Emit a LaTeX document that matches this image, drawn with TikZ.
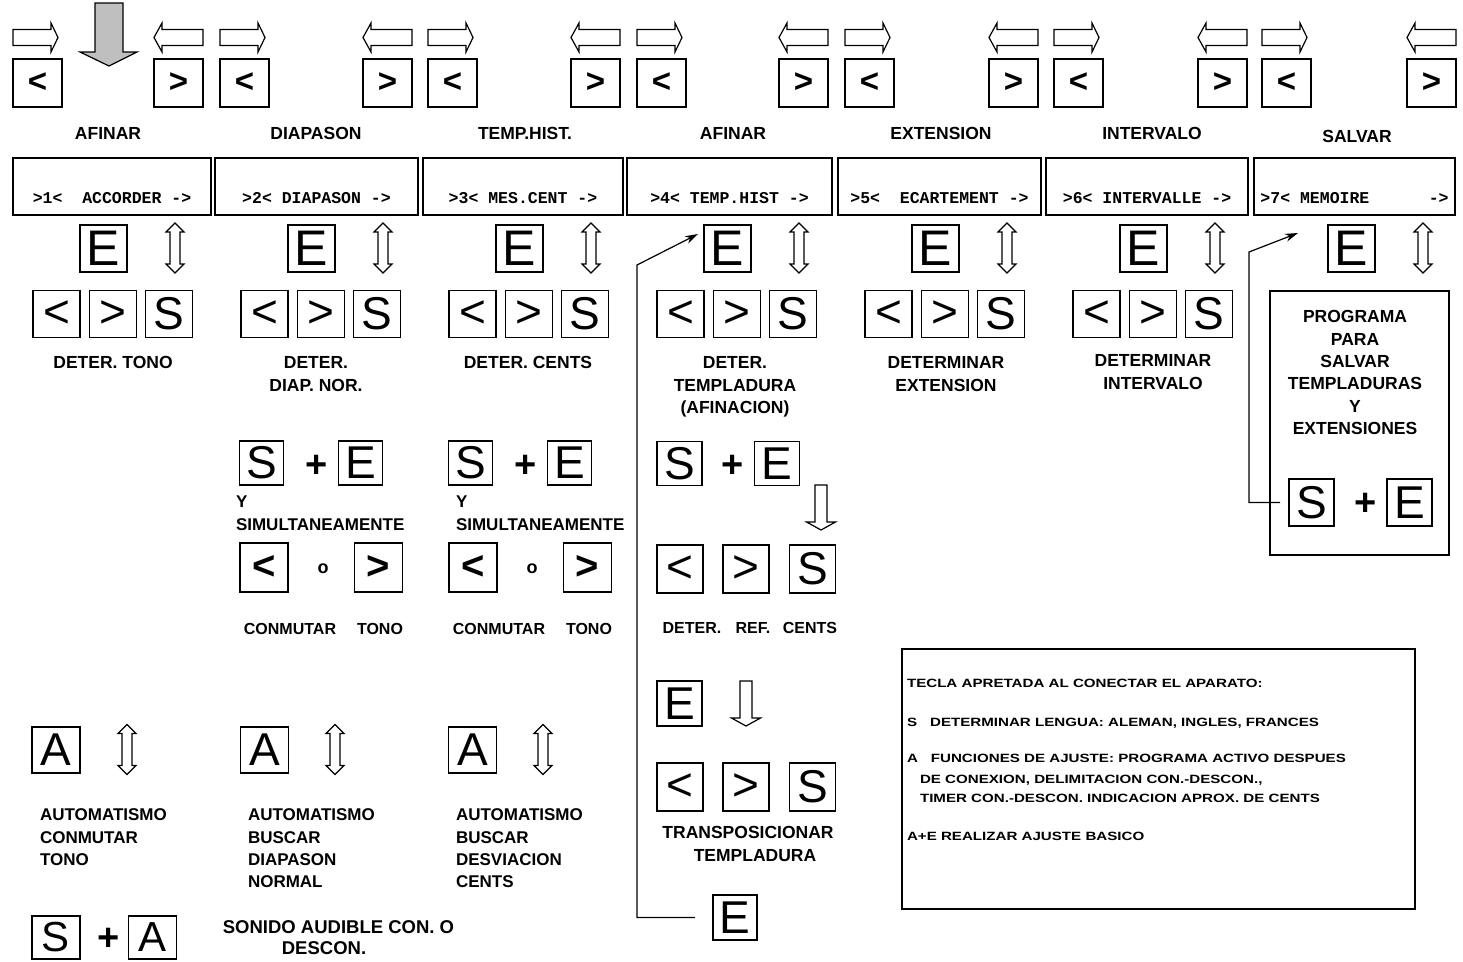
\documentclass[tikz,border=0pt]{standalone}
\usepackage{fontspec}
\setmainfont{Liberation Sans}
\newfontfamily\monofam{Liberation Mono}
\newfontfamily\widefam{Liberation Sans}[FakeStretch=1.26]
\usetikzlibrary{arrows.meta}
\newcommand\fsz[2]{\fontsize{#1}{#2}\selectfont}
\tikzset{
  every node/.style={inner sep=0pt, outer sep=0pt},
  key/.style={draw, line width=1.3pt, minimum width=47pt, minimum height=47pt, font=\fsz{46}{46}},
  topkey/.style={draw, line width=1.3pt, minimum width=49pt, minimum height=48pt, font=\fsz{33}{33}\bfseries},
  lbl/.style={font=\fsz{17.5}{22.5}\bfseries, align=center, anchor=north},
  llbl/.style={font=\fsz{17}{22.4}\bfseries, align=left, anchor=north west},
  small/.style={font=\fsz{16}{20}\bfseries},
  disp/.style={draw, line width=1.3pt, minimum height=57pt},
  disptxt/.style={font=\monofam\bfseries\fsz{16.5}{18}},
  hol/.style={draw, line width=1.2pt, fill=white},
  conn/.style={line width=1.2pt, -{Stealth[length=13pt,width=8pt]}},
  plus/.style={font=\fsz{38}{38}\bfseries},
  info/.style={font=\widefam\bfseries\fsz{12}{14}, anchor=base west},
  rarr/.pic={\path[hol] (0,-8)--(38,-8)--(38,-14.5)--(45,0)--(38,14.5)--(38,8)--(0,8)--cycle;},
  larr/.pic={\path[hol] (0,0)--(8,-14.5)--(8,-8)--(49,-8)--(49,8)--(8,8)--(8,14.5)--cycle;},
  varr/.pic={\path[hol] (0,-25)--(9,-16)--(5,-16)--(5,16)--(9,16)--(0,25)--(-9,16)--(-5,16)--(-5,-16)--(-9,-16)--cycle;},
  darr/.pic={\path[hol] (-6,0)--(6,0)--(6,37)--(14.5,37)--(0,45)--(-14.5,37)--(-6,37)--cycle;},
}
\begin{document}
\begin{tikzpicture}[x=1pt,y=-1pt]
\useasboundingbox (0,0) rectangle (1463,961);
% big gray arrow
\path[draw, line width=1.2pt, fill=black!25] (95,3)--(123,3)--(123,52)--(137,52)--(109,66)--(80,52)--(95,52)--cycle;
% top keys and arrows
\foreach \l/\r [count=\i] in {13/154,220/363,428/571,637/779,845/989,1054/1198,1262/1407} {
  \node[topkey] (kl\i) at (\l+24.5,83) {<};
  \node[topkey] (kr\i) at (\r+24.5,83) {>};
  \pic at (\l,37.5) {rarr};
  \pic at (\r,37.5) {larr};
}
% top labels
\foreach \x/\y/\t in {108/134/AFINAR,316/134/DIAPASON,525/134/TEMP.HIST.,733/134/AFINAR,941/134/EXTENSION,1152/134/INTERVALO,1357/137/SALVAR}
  \node[lbl] at (\x,\y-6.3) {\t};
% display boxes
\foreach \a/\b/\t [count=\i] in {13/211/{>1<~~ACCORDER~->},215/418/{>2<~DIAPASON~->},423/623/{>3<~MES.CENT~->},627/832/{>4<~TEMP.HIST~->},838/1041/{>5<~~ECARTEMENT~->},1046/1248/{>6<~INTERVALLE~->},1254/1455/{>7<~MEMOIRE~~~~~~->}} {
  \node[disp, minimum width=\b-\a] (d\i) at ({(\a+\b)/2},186.5) {};
  \node[disptxt] (dt\i) at ({(\a+\b)/2},198) {\t};
}
% E row
\foreach \i/\dx in {1/0,2/208,3/416,4/624,5/832,6/1040,7/1248} {
  \node[key, font=\fsz{50}{50}] (e\i) at (103.5+\dx,248.5) {E};
  \pic at (175+\dx,248) {varr};
}
% < > S row
\foreach \i/\dx in {1/0,2/208,3/416,4/624,5/832,6/1040} {
  \node[key] (a\i) at (56.5+\dx,314) {<};
  \node[key] (b\i) at (113+\dx,314) {>};
  \node[key] (s\i) at (169+\dx,314) {S};
}
\node[lbl] at (113,356.7) {DETER. TONO};
\node[lbl] at (316,356.7) {DETER.\\DIAP. NOR.};
\node[lbl] at (528,356.7) {DETER. CENTS};
\node[lbl] at (735,356.7) {DETER.\\TEMPLADURA\\(AFINACION)};
\node[lbl] at (946,356.7) {DETERMINAR\\EXTENSION};
\node[lbl] at (1153,354.7) {DETERMINAR\\INTERVALO};
% panels 2 and 3 lower part
\foreach \i/\dx/\yx in {2/0/236,3/209/456} {
  \node[key, minimum width=44pt, minimum height=44pt] (se\i) at (261.5+\dx,463) {S};
  \node[plus] (p\i) at (317+\dx,466) {+};
  \node[key, minimum width=44pt, minimum height=44pt] (ee\i) at (360.5+\dx,463) {E};
  \node[font=\fsz{17}{20}\bfseries, anchor=west] (y\i) at (\yx,502) {Y};
  \node[font=\fsz{17}{20}\bfseries, anchor=west] (sim\i) at (\yx,525) {SIMULTANEAMENTE};
  \node[key, minimum width=48pt, minimum height=49pt, font=\fsz{40}{40}\bfseries] (l\i) at (264+\dx,567.5) {<};
  \node[font=\fsz{18}{18}\bfseries] (o\i) at (323+\dx,569) {o};
  \node[key, minimum width=48pt, minimum height=49pt, font=\fsz{40}{40}\bfseries] (r\i) at (378.5+\dx,567.5) {>};
  \node[small] at (290+\dx,629) {CONMUTAR};
  \node[small] at (380+\dx,629) {TONO};
}
% panel 4 lower part
\node[key, minimum width=45pt, minimum height=44pt] (se4) at (679.5,463.5) {S};
\node[plus] (p4) at (733,466) {+};
\node[key, minimum width=45pt, minimum height=44pt] (ee4) at (777,463.5) {E};
\pic at (821,485) {darr};
\node[key, minimum width=46pt, minimum height=48pt] (la4) at (680,569) {<};
\node[key, minimum width=46pt, minimum height=48pt] (ra4) at (746,569) {>};
\node[key, minimum width=46pt, minimum height=48pt] (sa4) at (812.5,569) {S};
\node[small] at (692,628) {DETER.};
\node[small] at (753,628) {REF.};
\node[small] at (810,628) {CENTS};
\node[key, minimum width=45pt, minimum height=45pt] (et4) at (679.5,703.5) {E};
\pic at (746,681) {darr};
\node[key, minimum width=46pt, minimum height=48pt] (lb4) at (680,787) {<};
\node[key, minimum width=46pt, minimum height=48pt] (rb4) at (746,787) {>};
\node[key, minimum width=46pt, minimum height=48pt] (sb4) at (812.5,787) {S};
\node[lbl] at (748,826.7) {TRANSPOSICIONAR\\\hspace*{14pt}TEMPLADURA};
\node[key, minimum width=44pt, minimum height=45pt] (ebot) at (735,917.5) {E};
\coordinate (c4) at (637,265);
\coordinate (t4) at (698,234);
\draw[conn] ([xshift=-18pt]ebot.west) -| (c4) -- (t4);
% panel 7 program box
\node[draw, line width=1.3pt, minimum width=179pt, minimum height=264pt] (prog) at (1359.5,423) {};
\node[lbl, font=\fsz{17.5}{22.3}\bfseries] at (1355,310.7) {PROGRAMA\\PARA\\SALVAR\\TEMPLADURAS\\Y\\EXTENSIONES};
\node[key, minimum width=45pt, minimum height=47pt] (s7) at (1311.5,502.5) {S};
\node[plus] (p7) at (1366,504) {+};
\node[key, minimum width=45pt, minimum height=47pt] (ee7) at (1409.5,502.5) {E};
\coordinate (c7) at (1249,252);
\coordinate (t7) at (1298,233);
\draw[conn] ([xshift=-9pt]s7.west) -| (c7) -- (t7);
% A row
\foreach \i/\ax/\vx/\lx/\txt in {1/56/127/40/{AUTOMATISMO\\CONMUTAR\\TONO},2/264.5/335/248/{AUTOMATISMO\\BUSCAR\\DIAPASON\\NORMAL},3/472.5/543/456/{AUTOMATISMO\\BUSCAR\\DESVIACION\\CENTS}} {
  \node[key, minimum width=48pt, minimum height=46pt] (ak\i) at (\ax,750) {A};
  \pic at (\vx,749.5) {varr};
  \node[llbl] (at\i) at (\lx,808.9) {\txt};
}
% S + A
\node[key, minimum width=48pt, minimum height=43pt, font=\fsz{42}{42}] (sA) at (56,937.5) {S};
\node[plus] (pA) at (109,939) {+};
\node[key, minimum width=48pt, minimum height=43pt, font=\fsz{42}{42}] (aA) at (152.5,937.5) {A};
\node[font=\fsz{18.5}{20}\bfseries] (son) at (338.5,927) {SONIDO AUDIBLE CON. O};
\node[font=\fsz{18.5}{20}\bfseries] (des) at (324,948) {DESCON.};
% info box
\node[draw, line width=1.3pt, minimum width=513pt, minimum height=260pt, anchor=north west] (info) at (902,649) {};
\node[info] at (907,687) {TECLA APRETADA AL CONECTAR EL APARATO:};
\node[info] at (907,726) {S\hspace{13pt}DETERMINAR LENGUA: ALEMAN, INGLES, FRANCES};
\node[info] at (907,762) {A\hspace{13pt}FUNCIONES DE AJUSTE: PROGRAMA ACTIVO DESPUES};
\node[info] at (920,783) {DE CONEXION, DELIMITACION CON.-DESCON.,};
\node[info] at (920,802) {TIMER CON.-DESCON. INDICACION APROX. DE CENTS};
\node[info] at (907,840) {A+E REALIZAR AJUSTE BASICO};
\end{tikzpicture}
\end{document}
